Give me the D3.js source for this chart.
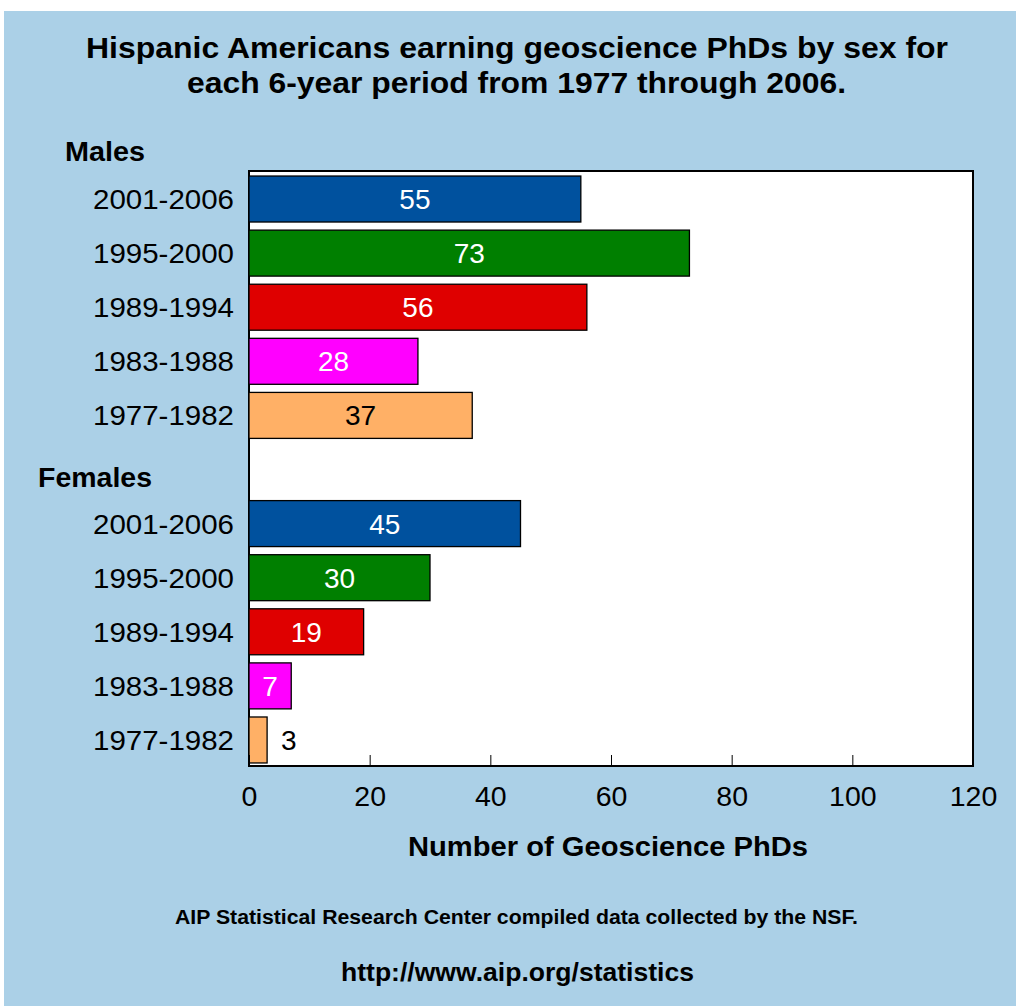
<!DOCTYPE html>
<html><head><meta charset="utf-8">
<script src="https://cdn.jsdelivr.net/npm/d3@7"></script>
<style>body{margin:0;background:#fff;} svg{display:block;} text{font-family:"Liberation Sans",Arial,sans-serif;}</style>
</head><body>
<svg id="c" width="1016" height="1006"></svg>
<script>
const periods = ["2001-2006","1995-2000","1989-1994","1983-1988","1977-1982"];
const malesValues = [55,73,56,28,37];
const femalesValues = [45,30,19,7,3];
const periodColors = ["#00519e","#007f00","#df0000","#ff00ff","#ffb066"];
const labelColors = ["#fff","#fff","#fff","#fff","#000"];
const xTicks = [0,20,40,60,80,100,120];

const rows = [];
periods.forEach((p,i)=>rows.push({key:"M"+i, label:p, value:malesValues[i], i}));
rows.push({key:"gap", label:"", value:null});
periods.forEach((p,i)=>rows.push({key:"F"+i, label:p, value:femalesValues[i], i}));

const svg = d3.select("#c");
svg.append("rect").attr("x",4).attr("y",11).attr("width",1012).attr("height",995).attr("fill","#abd0e7");

const L=249,R=973,T=171,B=766;
const x = d3.scaleLinear().domain([0,120]).range([L,R]);
const y = d3.scaleBand().domain(rows.map(r=>r.key)).range([T+2,B]).paddingInner(0.15).paddingOuter(0.056);

svg.append("rect").attr("x",L).attr("y",T).attr("width",R-L).attr("height",B-T).attr("fill","#fff").attr("stroke","#000").attr("stroke-width",2);

const data = rows.filter(r=>r.value!==null);
svg.selectAll("rect.bar").data(data).join("rect").attr("class","bar")
  .attr("x",x(0)).attr("y",d=>y(d.key)).attr("width",d=>x(d.value)-x(0)).attr("height",y.bandwidth())
  .attr("fill",d=>periodColors[d.i]).attr("stroke","#000").attr("stroke-width",1.3);

svg.selectAll("text.val").data(data).join("text").attr("class","val")
  .attr("x",d=> d.value<5 ? x(d.value)+14 : (x(0)+x(d.value))/2)
  .attr("y",d=>y(d.key)+y.bandwidth()/2).attr("dy","0.36em")
  .attr("text-anchor",d=>d.value<5?"start":"middle")
  .attr("font-size",28)
  .attr("fill",d=> d.value<5 ? "#000" : labelColors[d.i])
  .text(d=>d.value);

// category labels
svg.selectAll("text.cat").data(rows.filter(r=>r.label)).join("text").attr("class","cat")
  .attr("x",234).attr("y",d=>y(d.key)+y.bandwidth()/2).attr("dy","0.36em")
  .attr("text-anchor","end").attr("font-size",28).attr("fill","#000")
  .attr("textLength",141).attr("lengthAdjust","spacingAndGlyphs").text(d=>d.label);

// x axis
const ax = svg.append("g").attr("transform",`translate(0,${B})`)
  .call(d3.axisBottom(x).tickValues(xTicks).tickSizeInner(-11).tickSizeOuter(0).tickPadding(20));
ax.select(".domain").remove();
ax.selectAll("line").attr("stroke","#000").attr("stroke-width",1);
ax.selectAll("text").attr("font-size",28.5).attr("fill","#000").attr("font-family","Liberation Sans, Arial, sans-serif");

function txt(s, xx, yy, size, len, anchor){
  return svg.append("text").attr("x",xx).attr("y",yy).attr("dy","0.36em")
    .attr("text-anchor",anchor||"middle").attr("font-size",size).attr("font-weight","bold")
    .attr("textLength",len).attr("lengthAdjust","spacingAndGlyphs").text(s);
}
// group labels
txt("Males",65,151,27,80,"start");
txt("Females",38,477,27,114,"start");

// titles
txt("Hispanic Americans earning geoscience PhDs by sex for",517,47,30,862);
txt("each 6-year period from 1977 through 2006.",516.5,82,30,659);
txt("Number of Geoscience PhDs",608,846,27,400);
txt("AIP Statistical Research Center compiled data collected by the NSF.",516.5,917,20,683);
txt("http://www.aip.org/statistics",517.5,972,25,353);
</script>
</body></html>
